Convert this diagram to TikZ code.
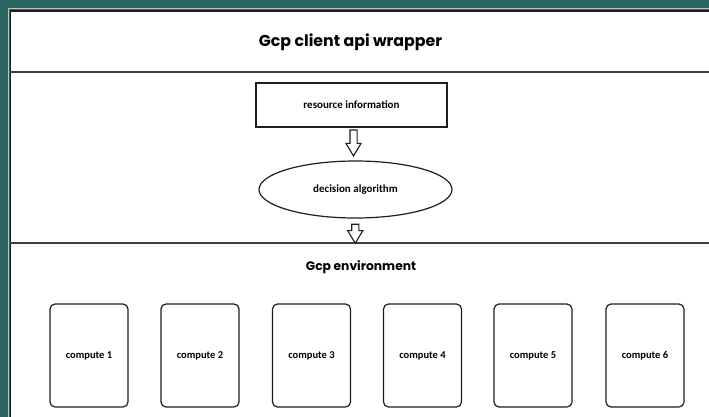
\documentclass[tikz,border=0pt]{standalone}
\usepackage{fontspec}
\usepackage{tikz}
\usetikzlibrary{shapes.geometric,shapes.arrows,positioning}
\setmainfont{Carlito}
\newfontfamily\geofont{Poppins}
\definecolor{teal}{HTML}{2B6361}
\definecolor{rim}{HTML}{B9C9C6}
\definecolor{ink}{HTML}{1E1E1E}
\begin{document}
\begin{tikzpicture}[x=1pt,y=-1pt,font=\bfseries\fontsize{11}{13}\selectfont,
  box/.style={draw=ink,line width=1.2pt,minimum width=191pt,minimum height=44pt,inner sep=0pt},
  algo/.style={ellipse,draw=ink,line width=1.2pt,minimum width=193pt,minimum height=57pt,inner sep=0pt},
  comp/.style={draw=ink,line width=1.2pt,rounded corners=5pt,minimum width=78pt,minimum height=103pt,inner sep=0pt,
    font=\bfseries\fontsize{10.5}{12}\selectfont},
  hollow/.style={single arrow,draw=ink,fill=white,line width=1.1pt,rotate=-90,inner xsep=0pt,inner ysep=3pt,
    single arrow head extend=4pt,single arrow head indent=0pt,single arrow tip angle=62},
  sep/.style={draw=ink!85,line width=1.4pt}]
\useasboundingbox (0,0) rectangle (709,417);
\fill[teal] (0,0) rectangle (709,417);
\fill[white] (10,10) rectangle (709,417);
\draw[rim,line width=1pt] (8.5,417) -- (8.5,8.5) -- (709,8.5);
\draw[ink,line width=1.6pt] (10.5,417) -- (10.5,11) -- (709,11);
\draw[sep] (10,72) -- (709,72);
\draw[sep] (10,243) -- (709,243);
% header and sections
\node (title) at (350.5,42) {\geofont\fontsize{15.8}{18}\selectfont\bfseries Gcp client api wrapper};
\node (env) at (361,267) {\geofont\fontsize{12.3}{14}\selectfont\bfseries Gcp environment};
\node[box] (res) at (351.5,105) {resource information};
\node[algo] (alg) at (355.5,189.5) {decision algorithm};
\coordinate (envtop) at (355,243);
\path (res.south) -- node[hollow,minimum height=26pt,xshift=-4pt]{} (alg.north);
\path (alg.south) -- node[hollow,minimum height=19pt]{} (envtop);
% compute nodes
\foreach \x/\n in {89/1,200/2,311.5/3,422.5/4,533/5,645/6}{
  \node[comp] (c\n) at (\x,355.5) {compute \n};}
\end{tikzpicture}
\end{document}
